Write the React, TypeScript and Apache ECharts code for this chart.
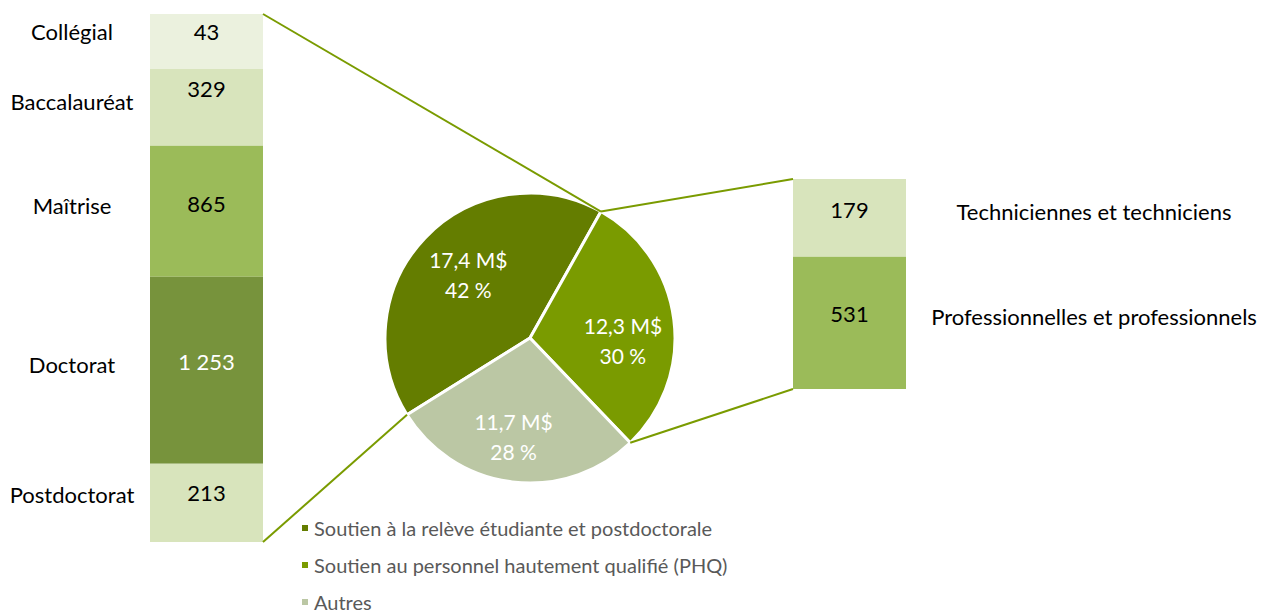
import React, { useEffect, useRef } from "react";
import * as echarts from "echarts";

// ---- Data ----
const pieNames = [
  "Soutien à la relève étudiante et postdoctorale",
  "Soutien au personnel hautement qualifié (PHQ)",
  "Autres",
];
const pieValues = [17.4, 12.3, 11.7]; // M$

const leftCategories = ["Collégial", "Baccalauréat", "Maîtrise", "Doctorat", "Postdoctorat"];
const leftCounts = [43, 329, 865, 1253, 213];
const leftShares = [1.81, 2.53, 4.32, 6.16, 2.58]; // estimated segment sizes (M$)

const rightCategories = ["Techniciennes et techniciens", "Professionnelles et professionnels"];
const rightCounts = [179, 531];
const rightShares = [4.56, 7.74]; // estimated segment sizes (M$)

// ---- Styles ----
const FONT = "Lato";
const pieColors = ["#647D00", "#7A9B00", "#BBC7A4"];
const leftColors = ["#EBF1DE", "#D8E4BC", "#9BBB59", "#77933C", "#D8E4BC"];
const leftTextColors = ["#000", "#000", "#000", "#fff", "#000"];
const rightColors = ["#D8E4BC", "#9BBB59"];
const leftValueDy = [-10, -19, -8, -9, -10];
const leftNameDy = [-10, -6, -6, -6, -8];
const rightValueDy = [-8, -9];
const rightNameDy = [-6, -6];
const pieLabelShift = [
  [-7, -11],
  [18, 12],
  [-7, 24],
];
const LINE_COLOR = "#7A9B00";

const PIE = { cx: 530, cy: 338, r: 145, start: 212 };
const LEFT = { left: 150, top: 14, width: 113, height: 528 };
const LEFT_NAMES = { left: 22, top: 14, width: 100, height: 528 };
const RIGHT = { left: 793, top: 179, width: 113, height: 210 };
const RIGHT_NAMES = { left: 1044, top: 179, width: 100, height: 210 };

const sum = (a: number[]) => a.reduce((s, v) => s + v, 0);
const fmtInt = (n: number) => String(n).replace(/\B(?=(\d{3})+(?!\d))/g, " ");
const fmtDec = (n: number) => n.toFixed(1).replace(".", ",");

function stackSeries(
  names: string[],
  shares: number[],
  axisIndex: number,
  stack: string,
  colors: string[] | null,
  labelFor: (i: number) => string,
  textColors: string[],
  dys: number[]
) {
  return names.map((n, i) => ({
    type: "bar",
    name: stack + "-" + n,
    xAxisIndex: axisIndex,
    yAxisIndex: axisIndex,
    stack,
    barWidth: "100%",
    silent: true,
    data: [shares[i]],
    itemStyle: { color: colors ? colors[i] : "transparent" },
    label: {
      show: true,
      position: "inside",
      formatter: labelFor(i),
      color: textColors[i],
      fontFamily: FONT,
      fontSize: 22,
      offset: [0, dys[i]],
    },
  }));
}

export default function App() {
  const ref = useRef<HTMLDivElement>(null);
  useEffect(() => {
    if (!ref.current) return;
    const chart = echarts.init(ref.current, undefined, { renderer: "svg" });

    const grids = [LEFT, LEFT_NAMES, RIGHT, RIGHT_NAMES];
    const maxes = [sum(leftShares), sum(leftShares), sum(rightShares), sum(rightShares)];

    const total = sum(pieValues);
    const a0 = PIE.start;
    const a1 = a0 - (360 * pieValues[0]) / total;
    const a2 = a1 - (360 * pieValues[1]) / total;
    const pt = (a: number) => {
      const rad = (a * Math.PI) / 180;
      return [PIE.cx + PIE.r * Math.cos(rad), PIE.cy - PIE.r * Math.sin(rad)];
    };
    const p0 = pt(a0), p1 = pt(a1), p2 = pt(a2);
    const seg = (x1: number, y1: number, x2: number, y2: number) => ({
      type: "line",
      silent: true,
      z: 100,
      shape: { x1, y1, x2, y2 },
      style: { stroke: LINE_COLOR, lineWidth: 2 },
    });

    const blackArr = (n: number) => Array(n).fill("#000");

    chart.setOption({
      animation: false,
      grid: grids.map((g) => ({ left: g.left, top: g.top, width: g.width, height: g.height })),
      xAxis: grids.map((_, i) => ({ type: "category", gridIndex: i, data: ["x"], show: false })),
      yAxis: grids.map((_, i) => ({
        type: "value",
        gridIndex: i,
        min: 0,
        max: maxes[i],
        inverse: true,
        show: false,
      })),
      legend: {
        data: pieNames,
        orient: "vertical",
        left: 300,
        top: 518,
        height: 120,
        padding: 0,
        icon: "rect",
        itemWidth: 8,
        itemHeight: 8,
        itemGap: 17,
        selectedMode: false,
        textStyle: { color: "#595959", fontFamily: FONT, fontSize: 20, lineHeight: 19 },
      },
      series: [
        {
          type: "pie",
          center: [PIE.cx, PIE.cy],
          radius: PIE.r,
          startAngle: PIE.start,
          clockwise: true,
          silent: true,
          data: pieNames.map((n, i) => ({ name: n, value: pieValues[i], itemStyle: { color: pieColors[i] } })),
          itemStyle: { borderColor: "#fff", borderWidth: 3 },
          label: {
            show: true,
            position: "inside",
            formatter: (p: any) => `${fmtDec(p.value)} M$\n${Math.round(p.percent)} %`,
            color: "#fff",
            fontFamily: FONT,
            fontSize: 21,
            lineHeight: 30,
          },
          labelLayout: (p: any) => ({ dx: pieLabelShift[p.dataIndex][0], dy: pieLabelShift[p.dataIndex][1] }),
          labelLine: { show: false },
        },
        ...stackSeries(leftCategories, leftShares, 0, "left", leftColors, (i) => fmtInt(leftCounts[i]), leftTextColors, leftValueDy),
        ...stackSeries(leftCategories, leftShares, 1, "leftNames", null, (i) => leftCategories[i], blackArr(5), leftNameDy),
        ...stackSeries(rightCategories, rightShares, 2, "right", rightColors, (i) => fmtInt(rightCounts[i]), blackArr(2), rightValueDy),
        ...stackSeries(rightCategories, rightShares, 3, "rightNames", null, (i) => rightCategories[i], blackArr(2), rightNameDy),
      ],
      graphic: [
        seg(LEFT.left + LEFT.width, LEFT.top, p1[0], p1[1]),
        seg(LEFT.left + LEFT.width, LEFT.top + LEFT.height, p0[0], p0[1]),
        seg(p1[0], p1[1], RIGHT.left, RIGHT.top),
        seg(p2[0], p2[1], RIGHT.left, RIGHT.top + RIGHT.height),
      ],
    });
    return () => chart.dispose();
  }, []);
  return (
    <div
      ref={ref}
      style={{ position: "absolute", left: 0, top: 0, width: 1264, height: 610 }}
    />
  );
}
